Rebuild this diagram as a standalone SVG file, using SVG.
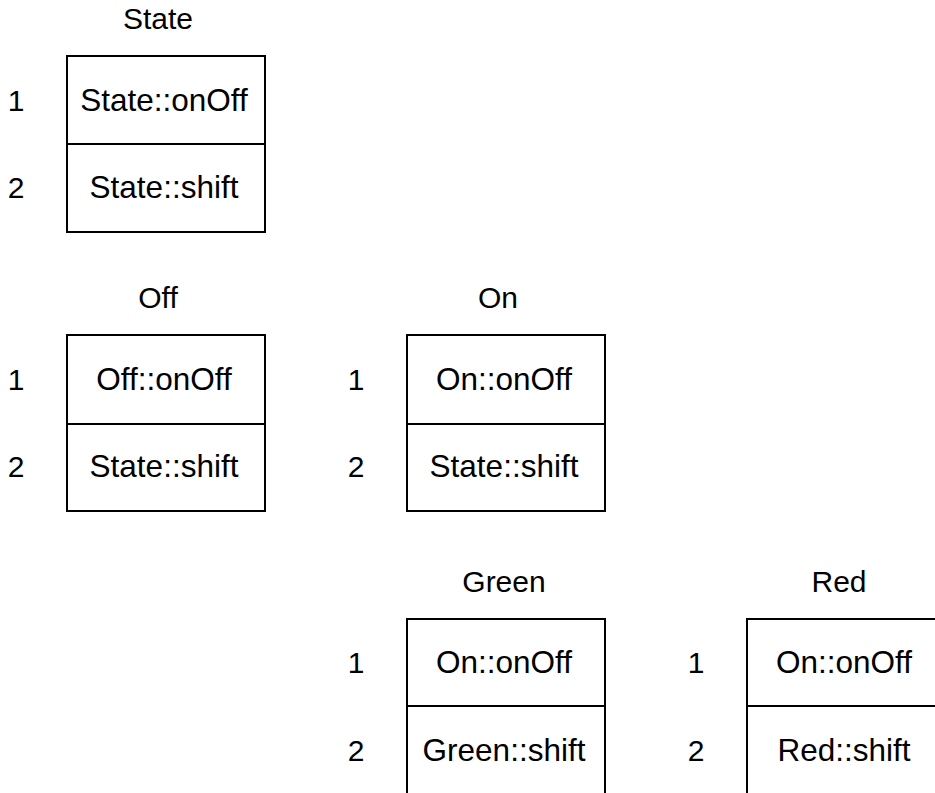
<svg xmlns="http://www.w3.org/2000/svg" width="935" height="793" viewBox="0 0 935 793">
<style>
text{font-family:"Liberation Sans",Arial,sans-serif;fill:#000}
.t{font-size:30px;text-anchor:middle}
.c{font-size:31.5px;text-anchor:middle}
.n{font-size:30px;text-anchor:middle}
.box{fill:#fff;stroke:#000;stroke-width:2}
.div{stroke:#000;stroke-width:2}
</style>
<rect width="935" height="793" fill="#fff"/>
<g id="State">
<text class="t" x="158" y="29">State</text>
<rect class="box" x="67" y="56" width="198" height="176"/>
<line class="div" x1="67" y1="144" x2="265" y2="144"/>
<text class="n" x="16" y="111">1</text>
<text class="n" x="16" y="198">2</text>
<text class="c" x="164" y="111">State::onOff</text>
<text class="c" x="164" y="198">State::shift</text>
</g>
<g id="Off">
<text class="t" x="158" y="308">Off</text>
<rect class="box" x="67" y="335" width="198" height="176"/>
<line class="div" x1="67" y1="424" x2="265" y2="424"/>
<text class="n" x="16" y="390">1</text>
<text class="n" x="16" y="477">2</text>
<text class="c" x="164" y="390">Off::onOff</text>
<text class="c" x="164" y="477">State::shift</text>
</g>
<g id="On">
<text class="t" x="498" y="308">On</text>
<rect class="box" x="407" y="335" width="198" height="176"/>
<line class="div" x1="407" y1="424" x2="605" y2="424"/>
<text class="n" x="356" y="390">1</text>
<text class="n" x="356" y="477">2</text>
<text class="c" x="504" y="390">On::onOff</text>
<text class="c" x="504" y="477">State::shift</text>
</g>
<g id="Green">
<text class="t" x="504" y="592">Green</text>
<rect class="box" x="407" y="619" width="198" height="176"/>
<line class="div" x1="407" y1="706" x2="605" y2="706"/>
<text class="n" x="356" y="673">1</text>
<text class="n" x="356" y="761">2</text>
<text class="c" x="504" y="673">On::onOff</text>
<text class="c" x="504" y="761">Green::shift</text>
</g>
<g id="Red">
<text class="t" x="839" y="592">Red</text>
<rect class="box" x="747" y="619" width="198" height="176"/>
<line class="div" x1="747" y1="706" x2="945" y2="706"/>
<text class="n" x="696" y="673">1</text>
<text class="n" x="696" y="761">2</text>
<text class="c" x="844" y="673">On::onOff</text>
<text class="c" x="844" y="761">Red::shift</text>
</g>
<g id="connectors"></g>
</svg>
